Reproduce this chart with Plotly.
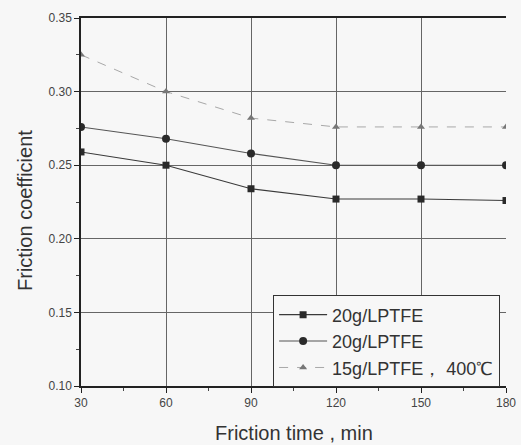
import plotly.graph_objects as go

# Friction time (min) and friction coefficient for each sample
time_min = [30, 60, 90, 120, 150, 180]
mu_20g_a = [0.259, 0.250, 0.234, 0.227, 0.227, 0.226]
mu_20g_b = [0.276, 0.268, 0.258, 0.250, 0.250, 0.250]
mu_15g_400 = [0.325, 0.300, 0.282, 0.276, 0.276, 0.276]

labels = ["20g/LPTFE", "20g/LPTFE", "15g/LPTFE， 400℃"]

x_ticks = [30, 60, 90, 120, 150, 180]
y_ticks = [0.10, 0.15, 0.20, 0.25, 0.30, 0.35]

fig = go.Figure()

fig.add_trace(go.Scatter(
    x=time_min, y=mu_20g_a, name=labels[0], mode="lines+markers",
    line=dict(color="#3a3a3a", width=1.1),
    marker=dict(symbol="square", size=7, color="#2a2a2a"),
))
fig.add_trace(go.Scatter(
    x=time_min, y=mu_20g_b, name=labels[1], mode="lines+markers",
    line=dict(color="#555555", width=1.1),
    marker=dict(symbol="circle", size=8, color="#2a2a2a"),
))
fig.add_trace(go.Scatter(
    x=time_min, y=mu_15g_400, name=labels[2], mode="lines+markers",
    line=dict(color="#a8a8a8", width=1.0, dash="dash"),
    marker=dict(symbol="triangle-up", size=7, color="#777777"),
))

fig.update_layout(
    width=521, height=445,
    margin=dict(l=81, r=15, t=18, b=59),
    paper_bgcolor="#f7f7f7",
    plot_bgcolor="#f7f7f7",
    font=dict(family="Liberation Sans, Arial, sans-serif", color="#333333"),
    showlegend=True,
    legend=dict(
        x=0.452, y=0.246, xanchor="left", yanchor="top",
        bgcolor="#f7f7f7", bordercolor="#333333", borderwidth=1,
        font=dict(size=18, color="#333333"),
        tracegroupgap=0, itemwidth=48,
    ),
    annotations=[
        dict(text="Friction time , min", xref="paper", yref="paper",
             x=0.5, y=-0.128, xanchor="center", yanchor="middle",
             showarrow=False, font=dict(size=20, color="#333333")),
        dict(text="Friction coefficient", xref="paper", yref="paper",
             x=-0.132, y=0.478, xanchor="center", yanchor="middle",
             textangle=-90, showarrow=False, font=dict(size=20, color="#333333")),
    ],
)

fig.update_xaxes(
    range=[30, 180], tickvals=x_ticks, automargin=False,
    showgrid=True, gridcolor="#666666", gridwidth=1,
    showline=True, linecolor="#222222", linewidth=1.5, mirror=True,
    ticks="outside", ticklen=5, tickcolor="#222222",
    minor=dict(dtick=15, ticks="outside", ticklen=3, tickcolor="#444444", showgrid=False),
    tickfont=dict(size=12, color="#444444"),
    zeroline=False,
)
fig.update_yaxes(
    range=[0.10, 0.35], tickvals=y_ticks, tickformat=".2f", automargin=False,
    showgrid=True, gridcolor="#666666", gridwidth=1,
    showline=True, linecolor="#222222", linewidth=1.5,
    ticks="outside", ticklen=5, tickcolor="#222222",
    minor=dict(dtick=0.025, ticks="outside", ticklen=3, tickcolor="#444444", showgrid=False),
    tickfont=dict(size=12, color="#444444"),
    zeroline=False,
)

fig.write_html("out.html")
